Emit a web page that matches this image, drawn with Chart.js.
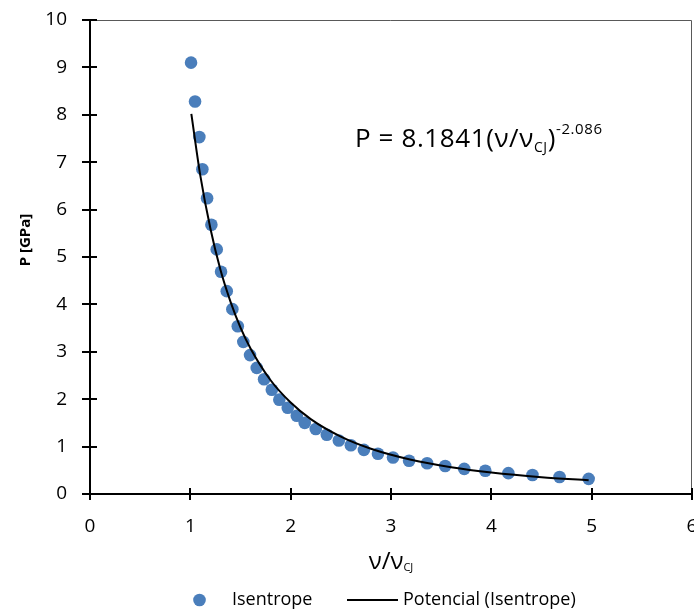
<!DOCTYPE html>
<html>
<head>
<meta charset="utf-8">
<script src="https://cdn.jsdelivr.net/npm/chart.js@4/dist/chart.umd.min.js"></script>
<style>
  html, body { margin: 0; padding: 0; background: #fff; }
  #chart { display: block; }
</style>
</head>
<body>
<canvas id="chart" width="694" height="610"></canvas>
<script>
// Isentrope points (v/vCJ, P in GPa)
const isentropeX = [1.007, 1.047, 1.090, 1.120, 1.167, 1.210, 1.263, 1.306, 1.363, 1.419,
  1.473, 1.528, 1.595, 1.662, 1.735, 1.812, 1.887, 1.971, 2.061, 2.14,
  2.25, 2.36, 2.48, 2.60, 2.73, 2.87, 3.02, 3.18, 3.36, 3.54,
  3.73, 3.94, 4.17, 4.41, 4.68, 4.97];
const isentropeP = [9.10, 8.28, 7.53, 6.85, 6.24, 5.68, 5.16, 4.69, 4.28, 3.90,
  3.54, 3.21, 2.93, 2.66, 2.42, 2.20, 1.99, 1.82, 1.65, 1.50,
  1.37, 1.25, 1.13, 1.03, 0.93, 0.85, 0.77, 0.70, 0.65, 0.59,
  0.53, 0.49, 0.44, 0.40, 0.36, 0.32];

// Power trendline ("Potencial")
const trendX = [1.01, 1.1, 1.2, 1.3, 1.4, 1.5, 1.6, 1.8, 2.0, 2.2, 2.5, 2.8, 3.2, 3.6, 4.0, 4.5, 4.97];
const trendP = [8.02, 6.71, 5.60, 4.73, 4.06, 3.51, 3.07, 2.40, 1.93, 1.58, 1.21, 0.955, 0.723, 0.566, 0.454, 0.355, 0.289];

const xMin = 0, xMax = 6, xStep = 1;
const yMin = 0, yMax = 10, yStep = 1;

const pointColor = '#4a7ebb';
const font = '"Open Sans", "Noto Sans", sans-serif';
const tickFont = { family: font, size: 19 };

const toPoints = (xs, ys) => xs.map((x, i) => ({ x: x, y: ys[i] }));

// =============================================================================
// Extra drawing: inner tick halves, plot frame, titles, equation, legend
// =============================================================================
const decorations = {
  id: 'decorations',
  afterDraw(chart) {
    const ctx = chart.ctx;
    const area = chart.chartArea;
    const xs = chart.scales.x;
    const ys = chart.scales.y;

    ctx.save();

    // thin frame on top and right
    ctx.strokeStyle = '#595959';
    ctx.lineWidth = 1;
    ctx.beginPath();
    ctx.moveTo(area.left, area.top + 0.5);
    ctx.lineTo(area.right - 0.5, area.top + 0.5);
    ctx.lineTo(area.right - 0.5, area.bottom);
    ctx.stroke();

    // tick marks crossing the axes (inner half)
    ctx.strokeStyle = '#000';
    ctx.lineWidth = 2;
    ctx.beginPath();
    xs.ticks.forEach(t => {
      const px = Math.round(xs.getPixelForValue(t.value));
      ctx.moveTo(px, area.bottom);
      ctx.lineTo(px, area.bottom - 6);
    });
    ys.ticks.forEach(t => {
      const py = Math.round(ys.getPixelForValue(t.value));
      ctx.moveTo(area.left, py);
      ctx.lineTo(area.left + 7, py);
    });
    ctx.stroke();

    ctx.fillStyle = '#000';
    ctx.textBaseline = 'alphabetic';

    // y axis title
    ctx.save();
    ctx.translate(30, 240);
    ctx.rotate(-Math.PI / 2);
    ctx.font = 'bold 15px ' + font;
    ctx.textAlign = 'center';
    ctx.fillText('P [GPa]', 0, 0);
    ctx.restore();

    // x axis title: v/vCJ
    ctx.textAlign = 'left';
    const main = 'ν/ν';
    ctx.font = '11px ' + font;
    const subW = ctx.measureText('CJ').width;
    ctx.font = '24px ' + font;
    const mainW = ctx.measureText(main).width;
    let tx = (area.left + area.right) / 2 - (mainW + subW) / 2;
    ctx.fillText(main, tx, 569);
    ctx.font = '11px ' + font;
    ctx.fillText('CJ', tx + mainW, 571);

    // equation of the trendline
    ctx.letterSpacing = '0.6px';
    let ex = 355;
    const parts = [
      ['P = 8.1841(ν/ν', 26, 147],
      ['CJ', 14, 152],
      [')', 26, 147],
      ['-2.086', 15, 134]
    ];
    parts.forEach(p => {
      ctx.font = p[1] + 'px ' + font;
      ctx.fillText(p[0], ex, p[2]);
      ex += ctx.measureText(p[0]).width;
    });
    ctx.letterSpacing = '0px';

    // legend
    const ly = 600;
    ctx.fillStyle = pointColor;
    ctx.beginPath();
    ctx.arc(199.5, ly, 6.3, 0, Math.PI * 2);
    ctx.fill();
    ctx.fillStyle = '#000';
    ctx.font = '18px ' + font;
    ctx.textBaseline = 'middle';
    ctx.fillText('Isentrope', 232, ly);
    ctx.strokeStyle = '#000';
    ctx.lineWidth = 2;
    ctx.beginPath();
    ctx.moveTo(347, ly);
    ctx.lineTo(398, ly);
    ctx.stroke();
    ctx.fillText('Potencial (Isentrope)', 403, ly);

    ctx.restore();
  }
};

new Chart(document.getElementById('chart'), {
  type: 'scatter',
  data: {
    datasets: [
      {
        label: 'Potencial (Isentrope)',
        data: toPoints(trendX, trendP),
        showLine: true,
        borderColor: '#000',
        borderWidth: 2,
        pointRadius: 0,
        cubicInterpolationMode: 'monotone',
        fill: false
      },
      {
        label: 'Isentrope',
        data: toPoints(isentropeX, isentropeP),
        backgroundColor: pointColor,
        borderWidth: 0,
        pointRadius: 6.3,
        pointHoverRadius: 6.3
      }
    ]
  },
  options: {
    responsive: false,
    animation: false,
    devicePixelRatio: 1,
    layout: { autoPadding: false, padding: { top: 20, right: 2, left: 0, bottom: 0 } },
    plugins: {
      legend: { display: false },
      tooltip: { enabled: false }
    },
    scales: {
      x: {
        type: 'linear',
        min: xMin,
        max: xMax,
        ticks: { stepSize: xStep, color: '#000', padding: 15, maxRotation: 0, font: tickFont },
        grid: { drawOnChartArea: false, color: '#000', lineWidth: 2, tickLength: 6 },
        border: { color: '#000', width: 2 },
        afterFit: s => { s.height = 116; s.paddingLeft = 0; s.paddingRight = 0; }
      },
      y: {
        type: 'linear',
        min: yMin,
        max: yMax,
        ticks: { stepSize: yStep, color: '#000', padding: 15, font: tickFont },
        grid: { drawOnChartArea: false, color: '#000', lineWidth: 2, tickLength: 8 },
        border: { color: '#000', width: 2 },
        afterFit: s => { s.width = 90; s.paddingTop = 0; s.paddingBottom = 0; }
      }
    }
  },
  plugins: [decorations]
});
</script>
</body>
</html>
